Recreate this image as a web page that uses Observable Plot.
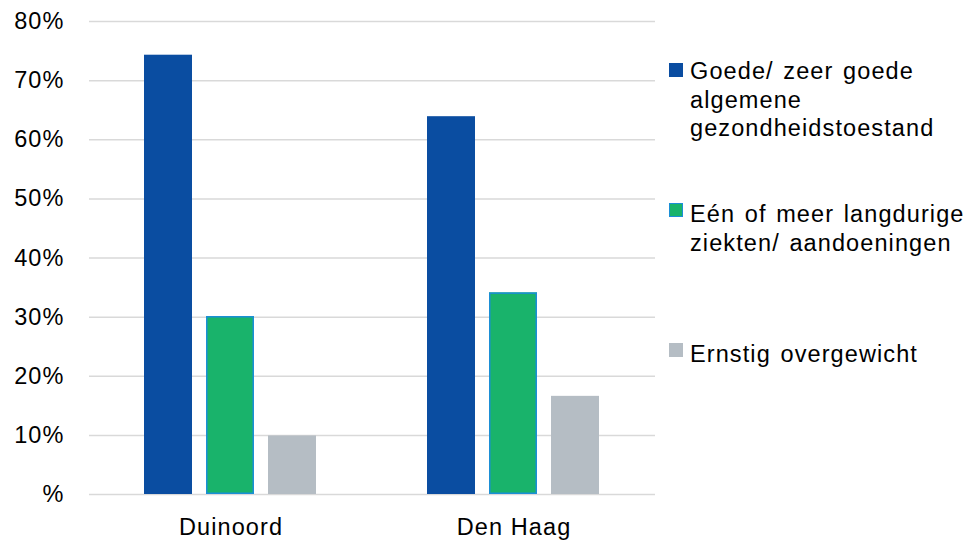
<!DOCTYPE html>
<html>
<head>
<meta charset="utf-8">
<script src="https://cdn.jsdelivr.net/npm/d3@7"></script>
<script src="https://cdn.jsdelivr.net/npm/@observablehq/plot@0.6"></script>
<style>
  html, body { margin: 0; padding: 0; background: #fff; }
  #wrap { position: relative; width: 968px; height: 542px; font-family: "Liberation Sans", Arial, sans-serif; }
  #legend { position: absolute; left: 669px; top: 0; width: 299px; color: #000; font-size: 23.5px; letter-spacing: 1.1px; word-spacing: 2px; }
  .sw { position: absolute; left: 0; width: 14px; height: 14px; box-sizing: border-box; }
  .lbl { position: absolute; left: 21px; line-height: 28.5px; white-space: nowrap; }
</style>
</head>
<body>
<div id="wrap"><div id="legend"></div></div>
<script>
const categories = ["Duinoord", "Den Haag"];
const series = ["Goede/ zeer goede algemene gezondheidstoestand", "Eén of meer langdurige ziekten/ aandoeningen", "Ernstig overgewicht"];
const legendLines = [["Goede/ zeer goede", "algemene", "gezondheidstoestand"], ["Eén of meer langdurige", "ziekten/ aandoeningen"], ["Ernstig overgewicht"]];
const duinoord = [74.3, 30.1, 9.9];
const denHaag = [63.9, 34.1, 16.6];
const colors = ["#0a4da1", "#19b36b", "#b5bdc4"];
const yTicks = [0, 10, 20, 30, 40, 50, 60, 70, 80];

const data = [];
[duinoord, denHaag].forEach((vals, ci) => vals.forEach((v, si) => data.push({cat: categories[ci], series: series[si], value: v})));

const fmt = d => d === 0 ? "%" : d + "%";

const chart = Plot.plot({
  width: 968,
  height: 542,
  marginLeft: 88,
  marginRight: 313,
  marginTop: 21,
  marginBottom: 48,
  style: {fontFamily: "Liberation Sans, Arial, sans-serif", fontSize: "23.5px", letterSpacing: "1.1px", color: "#000", background: "transparent"},
  fx: {domain: categories, padding: 0, label: null},
  x: {domain: series, paddingInner: 0.22, paddingOuter: 0.878, axis: null},
  y: {domain: [0, 80], label: null},
  color: {domain: series, range: colors},
  marks: [
    Plot.ruleY(yTicks, {stroke: "#d9d9d9", strokeWidth: 1.5}),
    Plot.axisY({ticks: yTicks, tickSize: 0, tickPadding: 25, tickFormat: fmt, fontSize: 23.5, label: null}),
    Plot.axisFx({anchor: "bottom", tickSize: 0, tickPadding: 24, fontSize: 23.5, label: null}),
    Plot.barY(data, {fx: "cat", x: "series", y: "value", fill: "series"}),
    Plot.barY(data.filter(d => d.series === series[1]), {fx: "cat", x: "series", y: "value", fill: "series", stroke: "#1b8fd6", strokeWidth: 1.5, inset: 0.75})
  ]
});
document.getElementById("wrap").prepend(chart);

const legend = document.getElementById("legend");
const swTops = [63, 203, 343];
const textTops = [57, 200, 340];
series.forEach((s, i) => {
  const sw = document.createElement("div");
  sw.className = "sw";
  sw.style.top = swTops[i] + "px";
  sw.style.background = colors[i];
  if (i === 1) sw.style.border = "1.5px solid #1b8fd6";
  legend.appendChild(sw);
  const lbl = document.createElement("div");
  lbl.className = "lbl";
  lbl.style.top = textTops[i] + "px";
  lbl.innerHTML = legendLines[i].join("<br>");
  legend.appendChild(lbl);
});
</script>
</body>
</html>
